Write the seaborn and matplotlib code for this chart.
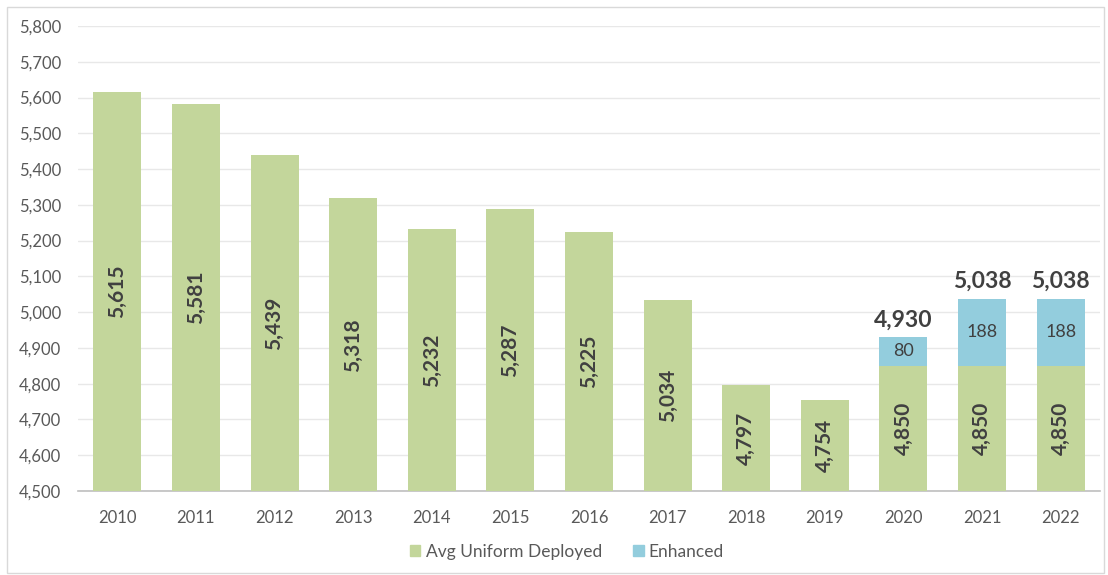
import numpy as np
import pandas as pd
import seaborn as sns
import matplotlib.pyplot as plt
from matplotlib.patches import Patch, Rectangle

# ----- data -----
years = ["2010", "2011", "2012", "2013", "2014", "2015", "2016",
         "2017", "2018", "2019", "2020", "2021", "2022"]
uniform = [5615, 5581, 5439, 5318, 5232, 5287, 5225, 5034, 4797, 4754, 4850, 4850, 4850]
enhanced = [0, 0, 0, 0, 0, 0, 0, 0, 0, 0, 80, 188, 188]

df = pd.DataFrame({"year": years, "uniform": uniform, "enhanced": enhanced})
df["total"] = df["uniform"] + df["enhanced"]

GREEN = "#C3D69B"
BLUE = "#93CDDD"
TXT = "#404040"
TICK = "#595959"
YMIN, YMAX = 4500, 5800

sns.set_theme(style="white")
plt.rcParams["font.family"] = ["Lato", "DejaVu Sans"]

fig = plt.figure(figsize=(11.08, 5.75), dpi=100)
ax = fig.add_axes([78 / 1108, 1 - 491 / 575, (1100 - 78) / 1108, (491 - 26) / 575])

# stacked bars: total (blue) first, then base (green) on top of it
sns.barplot(data=df, x="year", y="total", color=BLUE, saturation=1, width=0.61,
            linewidth=0, ax=ax, zorder=2)
sns.barplot(data=df, x="year", y="uniform", color=GREEN, saturation=1, width=0.61,
            linewidth=0, ax=ax, zorder=3)

ax.set_ylim(YMIN, YMAX)
ax.set_xlim(-0.5, len(years) - 0.5)
ax.set_yticks(np.arange(YMIN, YMAX + 1, 100))
ax.set_yticklabels([f"{v:,}" for v in np.arange(YMIN, YMAX + 1, 100)])
ax.yaxis.grid(True, color="#E8E8E8", linewidth=1)
ax.set_axisbelow(True)
ax.set_xlabel("")
ax.set_ylabel("")
ax.tick_params(axis="both", length=0, labelsize=12, labelcolor=TICK)
ax.tick_params(axis="x", pad=14)
ax.tick_params(axis="y", pad=12)
for s in ["top", "right", "left"]:
    ax.spines[s].set_visible(False)
ax.spines["bottom"].set_color("#BFBFBF")
ax.spines["bottom"].set_linewidth(1.2)

# value labels
for i, row in df.iterrows():
    ax.text(i, (YMIN + row["uniform"]) / 2, f"{row['uniform']:,}", rotation=90,
            ha="center", va="center", fontsize=15, fontweight="bold", color=TXT, zorder=5)
    if row["enhanced"] > 0:
        ax.text(i, row["uniform"] + row["enhanced"] / 2, f"{row['enhanced']}",
                ha="center", va="center", fontsize=13, color=TXT, zorder=5)
        ax.annotate(f"{row['total']:,}", (i, row["total"]), xytext=(0, 5),
                    textcoords="offset points", ha="center", va="bottom",
                    fontsize=16.5, fontweight="bold", color=TXT, zorder=5)

handles = [Patch(color=GREEN, label="Avg Uniform Deployed"),
           Patch(color=BLUE, label="Enhanced")]
fig.legend(handles=handles, loc="center", bbox_to_anchor=(567 / 1108, 1 - 552 / 575),
           ncol=2, frameon=False, fontsize=12.5, handlelength=0.6, handleheight=0.6,
           columnspacing=1.8, handletextpad=0.3, labelcolor=TICK)

# chart border
fig.patches.append(Rectangle((7 / 1108, 2 / 575), 1097 / 1108, 566 / 575,
                             transform=fig.transFigure, fill=False,
                             edgecolor="#D9D9D9", linewidth=1))

fig.savefig("out.png", dpi=100)
